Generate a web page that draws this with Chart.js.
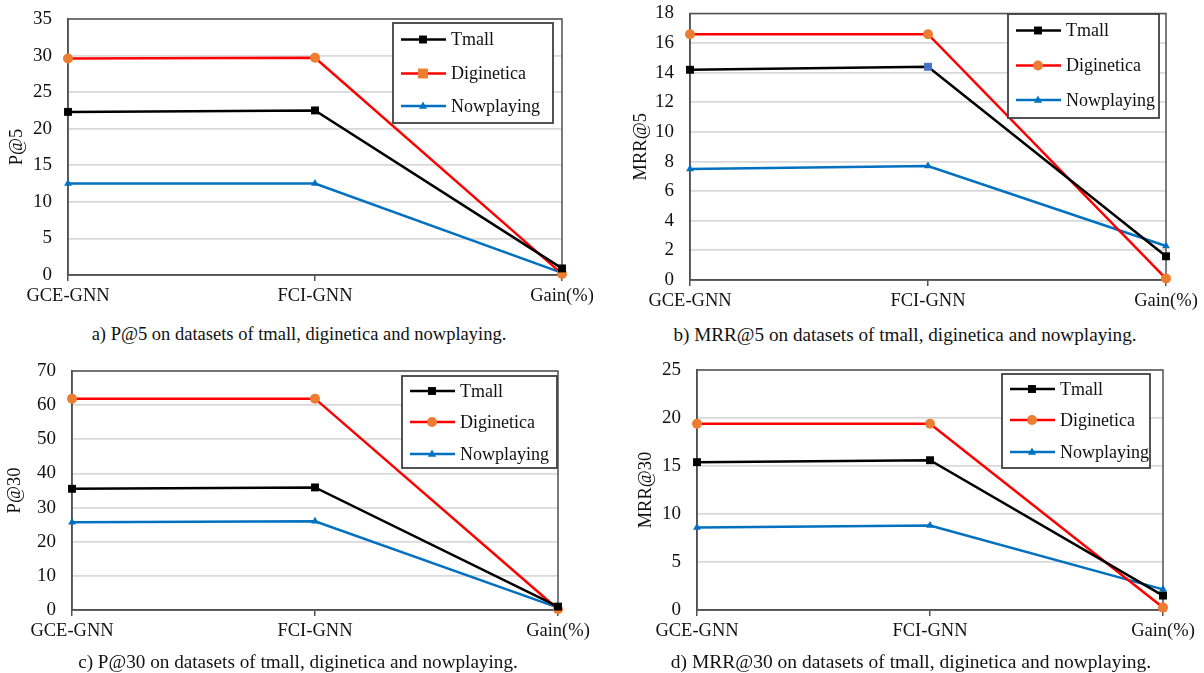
<!DOCTYPE html>
<html>
<head>
<meta charset="utf-8">
<script src="https://cdn.jsdelivr.net/npm/chart.js@4"></script>
<style>
    body { margin: 0; background: #fff; width: 1204px; height: 673px; position: relative; overflow: hidden; }
    .panel { position: absolute; }
    .caption { position: absolute; font-family: 'Liberation Serif', serif; font-size: 18.5px; line-height: 21px; color: #111; text-align: center; width: 600px; white-space: nowrap; }
</style>
</head>
<body>
<div class="panel" style="left:0;top:0;width:600px;height:310px"><canvas id="chartA"></canvas></div>
<div class="panel" style="left:600px;top:0;width:604px;height:310px"><canvas id="chartB"></canvas></div>
<div class="panel" style="left:0;top:350px;width:600px;height:310px"><canvas id="chartC"></canvas></div>
<div class="panel" style="left:600px;top:350px;width:604px;height:310px"><canvas id="chartD"></canvas></div>
<div class="caption" style="left:-1px;top:324px">a) P@5 on datasets of tmall, diginetica and nowplaying.</div>
<div class="caption" style="left:605px;top:324px;font-size:19.2px">b) MRR@5 on datasets of tmall, diginetica and nowplaying.</div>
<div class="caption" style="left:-2px;top:651px;font-size:19.2px">c) P@30 on datasets of tmall, diginetica and nowplaying.</div>
<div class="caption" style="left:611px;top:651px;font-size:19.5px">d) MRR@30 on datasets of tmall, diginetica and nowplaying.</div>
<script>
        // Values
        const categories = ['GCE-GNN', 'FCI-GNN', 'Gain(%)'];
        const seriesNames = ['Tmall', 'Diginetica', 'Nowplaying'];

        const p5Tmall = [22.3, 22.5, 0.9];
        const p5Diginetica = [29.6, 29.7, 0.15];
        const p5Nowplaying = [12.5, 12.5, 0.3];

        const mrr5Tmall = [14.2, 14.4, 1.6];
        const mrr5Diginetica = [16.6, 16.6, 0.1];
        const mrr5Nowplaying = [7.5, 7.7, 2.3];

        const p30Tmall = [35.5, 35.9, 1.0];
        const p30Diginetica = [61.9, 61.9, 0.2];
        const p30Nowplaying = [25.7, 26.0, 0.7];

        const mrr30Tmall = [15.4, 15.6, 1.5];
        const mrr30Diginetica = [19.4, 19.4, 0.25];
        const mrr30Nowplaying = [8.6, 8.8, 2.15];

        const yTitles = ['P@5', 'MRR@5', 'P@30', 'MRR@30'];
        const yMax = [35, 18, 70, 25];
        const yStep = [5, 2, 10, 5];

        const FONT = 'Liberation Serif';
        const lineColors = ['#000000', '#ff0000', '#0070c0'];
        const markerColors = ['#000000', '#ed7d31', '#0070c0'];
        const markerStyles = ['rect', 'circle', 'triangle'];
        const markerRadius = [5.6, 5, 4.5];

        // Draw a marker shape (used for the boxed legend)
        function drawMarker(ctx, style, x, y, r, color) {
            ctx.fillStyle = color;
            ctx.beginPath();
            if (style === 'rect') {
                const s = r * Math.SQRT1_2;
                ctx.rect(x - s, y - s, 2 * s, 2 * s);
            } else if (style === 'circle') {
                ctx.arc(x, y, r, 0, Math.PI * 2);
            } else {
                ctx.moveTo(x, y - r);
                ctx.lineTo(x + r * 0.9, y + r * 0.6);
                ctx.lineTo(x - r * 0.9, y + r * 0.6);
                ctx.closePath();
            }
            ctx.fill();
        }

        // Plot area frame
        const framePlugin = {
            id: 'frame',
            beforeDatasetsDraw(chart) {
                const { ctx, chartArea: a } = chart;
                ctx.save();
                ctx.strokeStyle = '#505050';
                ctx.lineWidth = 1.5;
                ctx.strokeRect(a.left, a.top, a.right - a.left, a.bottom - a.top);
                ctx.restore();
            }
        };

        // Boxed legend with line + marker, drawn inside the plot
        const boxLegendPlugin = {
            id: 'boxLegend',
            afterDraw(chart, args, opts) {
                const ctx = chart.ctx;
                const b = opts.box;
                ctx.save();
                ctx.fillStyle = '#fff';
                ctx.fillRect(b.x, b.y, b.w, b.h);
                ctx.strokeStyle = '#404040';
                ctx.lineWidth = 1.8;
                ctx.strokeRect(b.x, b.y, b.w, b.h);
                chart.data.datasets.forEach((ds, i) => {
                    const y = b.y + opts.rows[i];
                    ctx.strokeStyle = ds.borderColor;
                    ctx.lineWidth = 2.5;
                    ctx.beginPath();
                    ctx.moveTo(b.x + 8, y);
                    ctx.lineTo(b.x + 53, y);
                    ctx.stroke();
                    const m = opts.markers[i];
                    drawMarker(ctx, m.style, b.x + 30, y, m.radius, m.color);
                    ctx.fillStyle = '#111';
                    ctx.font = '18px "' + FONT + '"';
                    ctx.textBaseline = 'middle';
                    ctx.fillText(ds.label, b.x + 58, y + 1);
                });
                ctx.restore();
            }
        };

        function makeDatasets(values, quirks) {
            return values.map((vals, i) => {
                const q = quirks[i] || {};
                return {
                    label: seriesNames[i],
                    data: vals,
                    borderColor: lineColors[i],
                    borderWidth: 2.5,
                    tension: 0,
                    clip: false,
                    pointStyle: q.pointStyle || markerStyles[i],
                    pointRadius: markerRadius[i],
                    pointBackgroundColor: q.pointColor || markerColors[i],
                    pointBorderColor: q.pointColor || markerColors[i],
                    pointBorderWidth: 0
                };
            });
        }

        function makeChart(id, idx, values, layout, legend, quirks) {
            const ctx = document.getElementById(id);
            return new Chart(ctx, {
                type: 'line',
                data: { labels: categories, datasets: makeDatasets(values, quirks || []) },
                options: {
                    responsive: true,
                    maintainAspectRatio: false,
                    animation: false,
                    layout: { padding: { left: layout.padLeft, right: layout.padRight, top: layout.padTop, bottom: 0 } },
                    plugins: {
                        legend: { display: false },
                        tooltip: { enabled: false },
                        boxLegend: legend
                    },
                    scales: {
                        x: {
                            offset: false,
                            grid: { drawOnChartArea: false, drawTicks: true, tickLength: 6, color: '#505050', lineWidth: 1.5 },
                            border: { display: true, color: '#505050', width: 1.5 },
                            ticks: { color: '#111', font: { family: FONT, size: 18.5 }, padding: 4, maxRotation: 0, autoSkip: false },
                            afterFit: s => { s.height = layout.xHeight; }
                        },
                        y: {
                            min: 0,
                            max: yMax[idx],
                            ticks: { stepSize: yStep[idx], color: '#111', font: { family: FONT, size: 19 }, padding: 16 },
                            grid: { color: '#d9d9d9', lineWidth: 1.8, drawTicks: false },
                            border: { display: true, color: '#505050', width: 1.5 },
                            title: { display: true, text: yTitles[idx], color: '#111', font: { family: FONT, size: 18.5 }, padding: 1 },
                            afterFit: s => {
                                s.width = layout.yWidth;
                                s.paddingTop = 0;
                                s.paddingBottom = 0;
                            }
                        }
                    }
                },
                plugins: [framePlugin, boxLegendPlugin]
            });
        }

        function stdMarkers() {
            return markerStyles.map((s, i) => ({ style: s, color: markerColors[i], radius: markerRadius[i] }));
        }

        function init() {
            const legendA = { box: { x: 393, y: 23, w: 160, h: 100 }, rows: [16.5, 50.5, 83], markers: stdMarkers() };
            legendA.markers[1] = { style: 'rect', color: '#ed7d31', radius: 7 };
            makeChart('chartA', 0, [p5Tmall, p5Diginetica, p5Nowplaying],
                { padLeft: 5, padRight: 38, padTop: 19, yWidth: 63, xHeight: 35 }, legendA);

            const legendB = { box: { x: 408, y: 14, w: 151, h: 104 }, rows: [16.5, 51.5, 86], markers: stdMarkers() };
            makeChart('chartB', 1, [mrr5Tmall, mrr5Diginetica, mrr5Nowplaying],
                { padLeft: 29, padRight: 38, padTop: 13.5, yWidth: 61, xHeight: 30 }, legendB,
                [{ pointStyle: ['rect', 'rect', 'rect'], pointColor: ['#000000', '#4472c4', '#000000'] }]);

            const legendC = { box: { x: 402, y: 26, w: 155, h: 92 }, rows: [15, 46, 78], markers: stdMarkers() };
            makeChart('chartC', 2, [p30Tmall, p30Diginetica, p30Nowplaying],
                { padLeft: 3, padRight: 42, padTop: 21, yWidth: 69, xHeight: 50 }, legendC);

            const legendD = { box: { x: 402, y: 24, w: 148, h: 94 }, rows: [15, 46, 78], markers: stdMarkers() };
            makeChart('chartD', 3, [mrr30Tmall, mrr30Diginetica, mrr30Nowplaying],
                { padLeft: 34, padRight: 41, padTop: 20, yWidth: 63, xHeight: 50 }, legendD);
        }

        document.addEventListener('DOMContentLoaded', init);
</script>
</body>
</html>
